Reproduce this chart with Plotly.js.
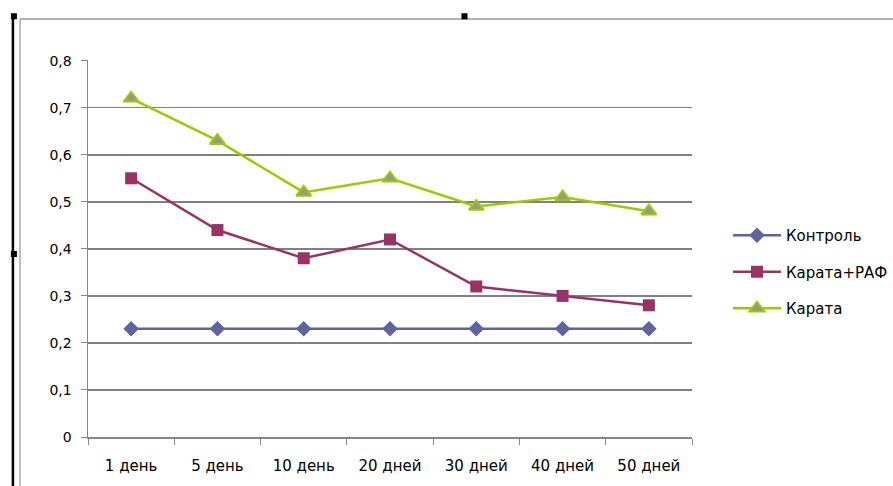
<!DOCTYPE html>
<html><head><meta charset="utf-8">
<script src="https://cdn.plot.ly/plotly-3.0.1.min.js"></script>
<style>html,body{margin:0;padding:0;background:#fff}#c{width:893px;height:486px}</style>
</head><body><div id="c"></div>
<script>
const categories = ['1 день','5 день','10 день','20 дней','30 дней','40 дней','50 дней'];
const seriesNames = ['Контроль','Карата+РАФ','Карата'];
const control = [0.23,0.23,0.23,0.23,0.23,0.23,0.23];
const karataRaf = [0.55,0.44,0.38,0.42,0.32,0.30,0.28];
const karata = [0.72,0.63,0.52,0.55,0.49,0.51,0.48];
const yTickVals = [0,0.1,0.2,0.3,0.4,0.5,0.6,0.7,0.8];
const yTickText = ['0','0,1','0,2','0,3','0,4','0,5','0,6','0,7','0,8'];

const font = {family:'DejaVu Sans, sans-serif', size:14, color:'#000'};
const fontX = {family:'DejaVu Sans, sans-serif', size:15, color:'#000'};
const traces = [
  {x:categories, y:control, name:seriesNames[0], legendgroup:'a', mode:'lines+markers',
   line:{color:'#5F63A0', width:2.5}, marker:{symbol:'diamond', size:12, color:'#5F63A0'}},
  {x:categories, y:karataRaf, name:seriesNames[1], legendgroup:'b', mode:'lines+markers',
   line:{color:'#993366', width:2.5}, marker:{symbol:'square', size:12, color:'#993366'}},
  {x:categories, y:karata, name:seriesNames[2], legendgroup:'c', mode:'lines+markers',
   line:{color:'#99CC00', width:2.5}, marker:{symbol:'triangle-up', size:13, color:'#969696', line:{color:'#99CC00', width:2}}}
];
const layout = {
  width:893, height:486,
  margin:{l:88, r:201, t:60, b:49},
  paper_bgcolor:'#fff', plot_bgcolor:'#fff',
  font:font,
  showlegend:true,
  legend:{xref:'container', yref:'container', x:0.8152, y:0.4403, xanchor:'left', yanchor:'middle', font:fontX, tracegroupgap:14, itemwidth:48},
  xaxis:{type:'category', showline:true, linecolor:'#868686', linewidth:1.5, ticks:'outside', tickson:'boundaries', ticklen:6, tickcolor:'#868686',
    showgrid:false, tickfont:fontX, range:[-0.5,6.5], ticklabelstandoff:14},
  yaxis:{range:[0,0.8015], tickvals:yTickVals, ticktext:yTickText, showline:true, linecolor:'#868686', linewidth:1.5,
    ticks:'outside', ticklen:6, tickcolor:'#868686', showgrid:true, gridcolor:'#808080', gridwidth:1.5, zeroline:false, tickfont:font, ticklabelstandoff:6},
  shapes:[
    {type:'line', xref:'paper', yref:'paper', x0:-0.1243, x1:-0.1243, y0:1.117, y1:-0.2, line:{color:'#000', width:2.5}},
    {type:'line', xref:'paper', yref:'paper', x0:-0.1125, x1:-0.1125, y0:1.109, y1:-0.2, line:{color:'#aaa', width:1.5}},
    {type:'line', xref:'paper', yref:'paper', x0:-0.1125, x1:1.5, y0:1.109, y1:1.109, line:{color:'#999', width:1.5}},
    {type:'rect', xref:'paper', yref:'paper', x0:-0.1276, x1:-0.1177, y0:1.124, y1:1.108, fillcolor:'#000', line:{width:0}},
    {type:'rect', xref:'paper', yref:'paper', x0:0.6183, x1:0.6283, y0:1.124, y1:1.108, fillcolor:'#000', line:{width:0}},
    {type:'rect', xref:'paper', yref:'paper', x0:-0.1276, x1:-0.1177, y0:0.4934, y1:0.4775, fillcolor:'#000', line:{width:0}}
  ]
};
Plotly.newPlot('c', traces, layout, {displayModeBar:false, staticPlot:true});
</script></body></html>
